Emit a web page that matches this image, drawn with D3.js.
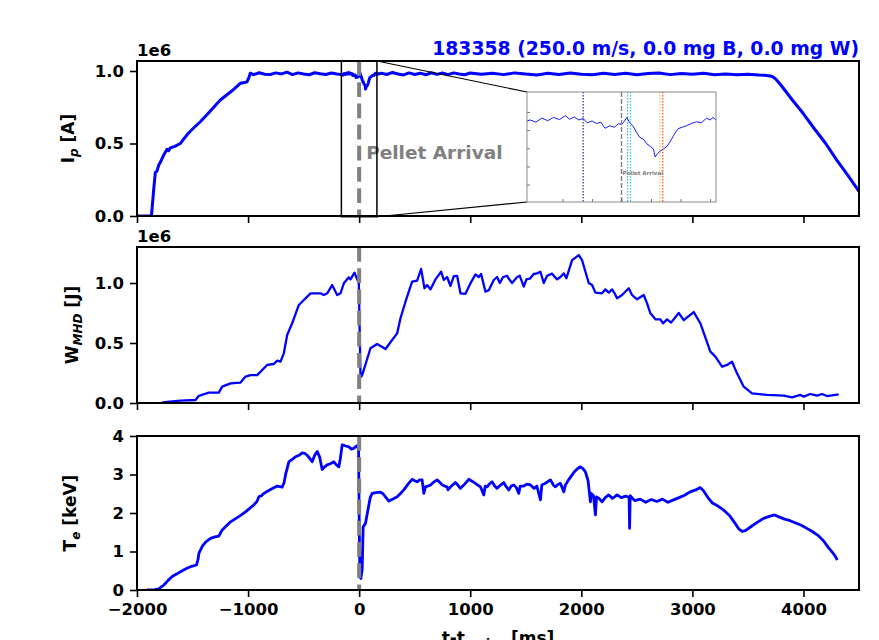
<!DOCTYPE html>
<html>
<head>
<meta charset="utf-8">
<script src="https://cdn.jsdelivr.net/npm/d3@7"></script>
<style>
  body { margin: 0; background: #fff; }
  svg { font-family: "DejaVu Sans", sans-serif; }
</style>
</head>
<body>
<svg id="chart" width="879" height="640"></svg>
<script>
const shotTitle = "183358 (250.0 m/s, 0.0 mg B, 0.0 mg W)";
const xTicks = [-2000, -1000, 0, 1000, 2000, 3000, 4000];

// plasma current, units of 1e6 A
const ipTime = [-2000, -1870, -1850, -1835, -1820, -1805, -1790, -1760, -1745, -1730, -1715, -1700, -1660, -1610, -1580, -1550, -1500, -1430, -1350, -1250, -1150, -1070, -1030, -1010, -990, -980,
  -950, -900, -850, -800, -750, -700, -650, -600, -550, -500, -450, -400, -350, -300, -250, -200,
  -160, -155, -145, -135, -125, -115, -105, -95, -88, -80, -72, -65, -58, -50, -42, -35, -28, -20, -12, -5, 0, 5, 9, 14, 20, 25, 31, 37, 43, 49, 54, 57, 61, 65, 71, 77, 83, 88, 92, 96, 103, 110, 118, 127, 135, 144, 150, 155, 160,
  200, 250, 300, 350, 400, 450, 500, 550, 600, 650, 700, 750, 800, 850, 900, 950, 1000, 1100, 1200, 1300, 1400, 1500, 1600, 1700, 1800, 1900, 2000, 2100, 2200, 2300, 2400, 2500, 2600, 2700, 2800, 2900, 3000, 3100, 3200, 3300, 3400, 3500, 3600, 3650,
  3700, 3720, 3750, 3800, 3900, 4000, 4100, 4200, 4300, 4400, 4500, 4520];
const ipValue = [0, 0, 0.18, 0.30, 0.31, 0.35, 0.37, 0.42, 0.44, 0.46, 0.45, 0.47, 0.48, 0.50, 0.53, 0.56, 0.60, 0.65, 0.715, 0.80, 0.86, 0.915, 0.92, 0.925, 0.96, 0.985,
  0.975, 0.988, 0.978, 0.976, 0.987, 0.98, 0.992, 0.975, 0.987, 0.979, 0.974, 0.988, 0.981, 0.976, 0.986, 0.979,
  0.975, 0.978, 0.972, 0.983, 0.976, 0.985, 0.979, 0.99, 0.98, 0.986, 0.978, 0.982, 0.97, 0.975, 0.968, 0.972, 0.955, 0.962, 0.958, 0.968, 0.965, 0.975, 0.985, 0.97, 0.96, 0.945, 0.93, 0.925, 0.912, 0.905, 0.898, 0.876, 0.885, 0.892, 0.898, 0.905, 0.92, 0.935, 0.945, 0.954, 0.958, 0.962, 0.968, 0.973, 0.97, 0.983, 0.978, 0.985, 0.978,
  0.984, 0.976, 0.99, 0.979, 0.973, 0.987, 0.976, 0.985, 0.974, 0.988, 0.977, 0.986, 0.975, 0.987, 0.979, 0.974, 0.986, 0.977, 0.985, 0.975, 0.987, 0.979, 0.973, 0.984, 0.976, 0.986, 0.977, 0.974, 0.985, 0.976, 0.984, 0.974, 0.982, 0.986, 0.975, 0.983, 0.977, 0.985, 0.974, 0.98, 0.975, 0.978, 0.972, 0.97,
  0.965, 0.962, 0.945, 0.90, 0.80, 0.705, 0.60, 0.50, 0.385, 0.28, 0.17, 0.15];

// stored energy, units of 1e6 J
const wmhdTime = [-1773, -1608, -1473, -1443, -1353, -1263, -1233, -1158, -1068, -1023, -978, -918, -828, -768, -738, -708, -678, -648, -603, -543, -438, -348, -318, -288, -243, -198, -168, -138, -93, -78, -42, -3, 12, 20,
  27, 102, 162, 237, 297, 342, 372, 417, 477, 522, 558, 588, 612, 642, 687, 738, 762, 792, 822, 852, 882, 912, 957, 1002, 1047, 1077, 1098, 1137, 1167, 1212, 1242, 1266, 1296, 1332, 1347, 1377, 1422, 1446, 1482, 1506, 1536, 1572, 1602, 1632, 1662, 1692, 1737, 1782, 1812, 1842, 1866, 1917, 1977, 2007, 2067, 2097, 2127, 2187, 2217, 2247, 2277, 2300, 2322,
  2367, 2427, 2457, 2502, 2562, 2592, 2622, 2667, 2712, 2736, 2772, 2808, 2877, 2922, 3012, 3072, 3162, 3207, 3267, 3312, 3357, 3402, 3462, 3537, 3672, 3822, 3897, 3972, 4002, 4062, 4122, 4167, 4212, 4317];
const wmhdValue = [0.006, 0.02, 0.025, 0.06, 0.086, 0.086, 0.136, 0.164, 0.17, 0.22, 0.232, 0.232, 0.317, 0.325, 0.353, 0.345, 0.414, 0.567, 0.664, 0.817, 0.914, 0.914, 0.90, 0.914, 0.983, 0.90, 0.914, 0.997, 1.047, 1.03, 1.086, 0.997, 0.233, 0.22,
  0.233, 0.456, 0.492, 0.45, 0.525, 0.58, 0.706, 0.844, 1.011, 1.02, 1.117, 0.956, 0.983, 0.947, 1.03, 1.094, 1.025, 1.05, 0.975, 1.058, 1.06, 0.914, 0.91, 0.997, 1.072, 1.05, 1.075, 0.928, 0.94, 1.025, 1.05, 1.0, 1.05, 1.06, 1.035, 1.0, 1.05, 1.06, 0.97, 1.03, 1.036, 1.075, 1.08, 1.094, 1.0, 1.06, 1.078, 1.03, 1.05, 1.08, 1.04, 1.19, 1.233, 1.19, 1.0, 0.983, 0.92, 0.914, 0.947, 0.92, 0.947, 0.914, 0.872,
  0.90, 0.956, 0.90, 0.864, 0.90, 0.83, 0.747, 0.697, 0.697, 0.664, 0.697, 0.67, 0.75, 0.69, 0.758, 0.664, 0.428, 0.386, 0.303, 0.317, 0.344, 0.247, 0.136, 0.081, 0.067, 0.061, 0.047, 0.067, 0.053, 0.075, 0.061, 0.075, 0.058, 0.072];

// electron temperature, keV
const teTime = [-1910, -1840, -1803, -1780, -1758, -1720, -1683, -1640, -1608, -1560, -1518, -1464, -1450, -1443, -1413, -1380, -1338, -1300, -1263, -1245, -1233, -1190, -1158, -1098, -1060, -1023, -985, -948, -920, -903, -880, -858, -798, -738, -693, -675, -663, -633, -600, -573, -540, -513, -490, -468, -445, -423, -400, -378, -355, -333, -310, -288, -260, -228, -205, -183, -170, -153, -120, -93, -70, -48, -25, -12, -5, 0, 6, 15, 27, 36, 57, 80, 100, 117, 150, 192, 215, 237, 267, 300, 342, 370, 402, 440, 477, 500, 522, 545, 567, 582, 597, 640, 670, 702, 725, 747, 770, 792, 800, 830, 867, 890, 912, 950, 987, 1020, 1047, 1070, 1092, 1122, 1135, 1152, 1175, 1197, 1220, 1242, 1270, 1302, 1320, 1347, 1370, 1392, 1415, 1437, 1450, 1482, 1510, 1542, 1575, 1600, 1632, 1645, 1680, 1722, 1750, 1767, 1790, 1812, 1842, 1857, 1890, 1932, 1965, 1992, 2015, 2037, 2060, 2067, 2082, 2090, 2110, 2127, 2137, 2160, 2187, 2215, 2247, 2280, 2300, 2322, 2360, 2400, 2430, 2435, 2440, 2480, 2530, 2580, 2630, 2680, 2730, 2780, 2830, 2880, 2930, 2980, 3030, 3070, 3100, 3140, 3180, 3230, 3280, 3330, 3380, 3420, 3450, 3480, 3530, 3580, 3640, 3700, 3740, 3780, 3830, 3880, 3930, 3980, 4030, 4080, 4130, 4180, 4220, 4260, 4290, 4305];
const teValue = [0, 0.01, 0.03, 0.08, 0.13, 0.25, 0.35, 0.42, 0.475, 0.55, 0.605, 0.65, 0.80, 0.95, 1.13, 1.25, 1.34, 1.38, 1.40, 1.50, 1.56, 1.68, 1.77, 1.88, 1.95, 2.03, 2.12, 2.21, 2.30, 2.42, 2.45, 2.51, 2.61, 2.70, 2.67, 2.80, 2.99, 3.33, 3.40, 3.46, 3.50, 3.56, 3.55, 3.50, 3.42, 3.33, 3.50, 3.60, 3.45, 3.13, 3.20, 3.25, 3.28, 3.33, 3.25, 3.20, 3.40, 3.77, 3.74, 3.72, 3.66, 3.68, 3.74, 3.72, 3.60, 2.0, 0.35, 0.30, 0.52, 1.64, 1.73, 2.10, 2.40, 2.51, 2.53, 2.54, 2.50, 2.42, 2.31, 2.36, 2.42, 2.50, 2.60, 2.75, 2.875, 2.84, 2.81, 2.86, 2.86, 2.51, 2.68, 2.72, 2.80, 2.86, 2.80, 2.73, 2.70, 2.68, 2.60, 2.70, 2.79, 2.72, 2.64, 2.75, 2.875, 2.82, 2.77, 2.72, 2.68, 2.47, 2.70, 2.68, 2.76, 2.81, 2.70, 2.64, 2.72, 2.79, 2.70, 2.60, 2.70, 2.73, 2.66, 2.51, 2.70, 2.70, 2.75, 2.73, 2.64, 2.70, 2.34, 2.73, 2.78, 2.86, 2.72, 2.68, 2.74, 2.77, 2.55, 2.73, 2.88, 3.05, 3.15, 3.20, 3.15, 3.07, 2.85, 2.68, 2.29, 2.51, 2.45, 1.95, 2.42, 2.38, 2.29, 2.40, 2.47, 2.38, 2.42, 2.47, 2.40, 2.44, 2.40, 1.60, 2.45, 2.32, 2.36, 2.28, 2.35, 2.30, 2.36, 2.28, 2.34, 2.40, 2.46, 2.55, 2.60, 2.66, 2.58, 2.40, 2.26, 2.18, 2.08, 1.95, 1.75, 1.58, 1.52, 1.55, 1.65, 1.75, 1.86, 1.92, 1.95, 1.90, 1.84, 1.80, 1.74, 1.68, 1.60, 1.52, 1.42, 1.28, 1.12, 0.98, 0.86, 0.78];

// zoomed window around the pellet arrival
const insetTimeRange = [-160, 160];
const insetIpRange = [0.752, 1.055];
const insetXTicks = [-100, -50, 0, 50, 100, 150];
const insetYTicks = [0.8, 0.85, 0.9, 0.95, 1.0];
const markerTimes = [-65, 10.5, 15.5, 65, 70];
const markerColors = ["#00008b", "#1e90ff", "#00d0d0", "#ffc000", "#ff2000"];

const svg = d3.select("#chart");
const x = d3.scaleLinear().domain([-2000, 4500]).range([137, 859]);

const panels = [
  {top: 61, bottom: 216, domain: [0, 1.069], ticks: [0, 0.5, 1.0], fmt: d3.format(".1f"), t: ipTime, v: ipValue, sci: "1e6", labelX: 74, lw: 3},
  {top: 247, bottom: 403, domain: [0, 1.3], ticks: [0, 0.5, 1.0], fmt: d3.format(".1f"), t: wmhdTime, v: wmhdValue, sci: "1e6", labelX: 78, lw: 2.3},
  {top: 436, bottom: 590, domain: [0, 4], ticks: [0, 1, 2, 3, 4], fmt: d3.format("d"), t: teTime, v: teValue, sci: null, labelX: 76, lw: 2.8}
];

const tickFont = "16.5px";

panels.forEach((p, i) => {
  const y = d3.scaleLinear().domain(p.domain).range([p.bottom, p.top]);
  p.y = y;
  const g = svg.append("g");

  svg.append("clipPath").attr("id", "clip" + i)
    .append("rect")
    .attr("x", x.range()[0]).attr("y", p.top)
    .attr("width", x.range()[1] - x.range()[0]).attr("height", p.bottom - p.top);

  const line = d3.line()
    .x((d, j) => x(p.t[j]))
    .y(d => y(d));

  g.append("path")
    .datum(p.v)
    .attr("clip-path", `url(#clip${i})`)
    .attr("fill", "none")
    .attr("stroke", "#0000ff")
    .attr("stroke-width", p.lw)
    .attr("stroke-linejoin", "round")
    .attr("d", line);

  // pellet arrival marker
  g.append("line")
    .attr("x1", x(0)).attr("x2", x(0))
    .attr("y1", p.top).attr("y2", p.bottom)
    .attr("stroke", "#808080")
    .attr("stroke-width", 4)
    .attr("stroke-dasharray", "14.8,6.4");

  // frame
  g.append("rect")
    .attr("x", x.range()[0]).attr("y", p.top)
    .attr("width", x.range()[1] - x.range()[0]).attr("height", p.bottom - p.top)
    .attr("fill", "none").attr("stroke", "#000").attr("stroke-width", 2);

  const xAxis = g.append("g")
    .attr("transform", `translate(0,${p.bottom})`)
    .call(d3.axisBottom(x).tickValues(xTicks).tickSize(7).tickPadding(6).tickSizeOuter(0)
      .tickFormat(i === 2 ? d3.format("d") : ""));
  const yAxis = g.append("g")
    .attr("transform", `translate(${x.range()[0]},0)`)
    .call(d3.axisLeft(y).tickValues(p.ticks).tickSize(7).tickPadding(6).tickSizeOuter(0)
      .tickFormat(p.fmt));

  [xAxis, yAxis].forEach(a => {
    a.select(".domain").remove();
    a.selectAll(".tick line").attr("stroke", "#000").attr("stroke-width", 1.6);
    a.selectAll(".tick text")
      .attr("fill", "#000")
      .attr("font-family", "DejaVu Sans")
      .attr("font-weight", "bold")
      .attr("font-size", tickFont);
  });

  if (p.sci) {
    g.append("text")
      .attr("x", x.range()[0]).attr("y", p.top - 5)
      .attr("font-weight", "bold").attr("font-size", tickFont)
      .text(p.sci);
  }
});

// y labels, subscript via dy shifts
function yLabel(p, parts) {
  const t = svg.append("text")
    .attr("transform", `translate(${p.labelX},${(p.top + p.bottom) / 2}) rotate(-90)`)
    .attr("text-anchor", "middle")
    .attr("font-weight", "bold")
    .attr("font-size", "17px");
  parts.forEach(pt => {
    const s = t.append("tspan").text(pt.text);
    if (pt.sub) s.attr("font-size", "12px").attr("dy", 4);
    if (pt.back) s.attr("dy", -4);
    if (pt.italic) s.attr("font-style", "italic");
  });
}
yLabel(panels[0], [{text: "I"}, {text: "p", sub: true, italic: true}, {text: " [A]", back: true}]);
yLabel(panels[1], [{text: "W"}, {text: "MHD", sub: true, italic: true}, {text: " [J]", back: true}]);
yLabel(panels[2], [{text: "T"}, {text: "e", sub: true, italic: true}, {text: " [keV]", back: true}]);

// x label (runs off the bottom edge, as in the original figure)
const xl = svg.append("text")
  .attr("x", (x.range()[0] + x.range()[1]) / 2).attr("y", 644)
  .attr("text-anchor", "middle")
  .attr("font-weight", "bold").attr("font-size", "17px");
xl.append("tspan").text("t-t");
xl.append("tspan").text("arrive").attr("font-size", "12px").attr("font-style", "italic").attr("dy", 4);
xl.append("tspan").text(" [ms]").attr("dy", -4);

// title
svg.append("text")
  .attr("x", x.range()[1]).attr("y", 55)
  .attr("text-anchor", "end")
  .attr("font-weight", "bold").attr("font-size", "18.8px")
  .attr("fill", "#0000ff")
  .text(shotTitle);

// main-panel annotation
const y1 = panels[0].y;
svg.append("text")
  .attr("x", x(0) + 7).attr("y", y1(0.39))
  .attr("font-weight", "bold").attr("font-size", "18.5px")
  .attr("fill", "#808080")
  .text("Pellet Arrival");

// zoom rectangle + inset
const zr = {x0: x(insetTimeRange[0]), x1: x(insetTimeRange[1]), y0: y1(1.069), y1: y1(-0.005)};
svg.append("rect")
  .attr("x", zr.x0).attr("y", zr.y0)
  .attr("width", zr.x1 - zr.x0).attr("height", zr.y1 - zr.y0)
  .attr("fill", "none").attr("stroke", "#000").attr("stroke-width", 1.5);

const inset = {left: 527, right: 716, top: 92, bottom: 202};
svg.append("line").attr("x1", zr.x1).attr("y1", zr.y0).attr("x2", inset.left).attr("y2", inset.top)
  .attr("stroke", "#000").attr("stroke-width", 1.2);
svg.append("line").attr("x1", zr.x1).attr("y1", zr.y1).attr("x2", inset.left).attr("y2", inset.bottom)
  .attr("stroke", "#000").attr("stroke-width", 1.2);

const ix = d3.scaleLinear().domain(insetTimeRange).range([inset.left, inset.right]);
const iy = d3.scaleLinear().domain(insetIpRange).range([inset.bottom, inset.top]);
const ig = svg.append("g");
ig.append("rect")
  .attr("x", inset.left).attr("y", inset.top)
  .attr("width", inset.right - inset.left).attr("height", inset.bottom - inset.top)
  .attr("fill", "#fff");
ig.append("clipPath").attr("id", "clipInset").append("rect")
  .attr("x", inset.left).attr("y", inset.top)
  .attr("width", inset.right - inset.left).attr("height", inset.bottom - inset.top);

const insetIdx = d3.range(ipTime.length).filter(j => ipTime[j] >= insetTimeRange[0] && ipTime[j] <= insetTimeRange[1]);
ig.append("path")
  .datum(insetIdx)
  .attr("clip-path", "url(#clipInset)")
  .attr("fill", "none").attr("stroke", "#0000ff").attr("stroke-width", 0.9)
  .attr("d", d3.line().x(j => ix(ipTime[j])).y(j => iy(ipValue[j])));

ig.append("line")
  .attr("x1", ix(0)).attr("x2", ix(0)).attr("y1", inset.top).attr("y2", inset.bottom)
  .attr("stroke", "#808080").attr("stroke-width", 1.4).attr("stroke-dasharray", "5,2");

ig.selectAll(".marker")
  .data(markerTimes)
  .join("line")
  .attr("class", "marker")
  .attr("x1", d => ix(d)).attr("x2", d => ix(d))
  .attr("y1", inset.top).attr("y2", inset.bottom)
  .attr("stroke", (d, k) => markerColors[k])
  .attr("stroke-width", 1)
  .attr("stroke-dasharray", "1.5,1.5");

ig.append("text")
  .attr("x", ix(0) + 1).attr("y", iy(0.825))
  .attr("font-weight", "bold").attr("font-size", "5.5px").attr("fill", "#808080")
  .text("Pellet Arrival");

const ixAxis = ig.append("g").attr("transform", `translate(0,${inset.bottom})`)
  .call(d3.axisBottom(ix).tickValues(insetXTicks).tickSize(-3).tickFormat(""));
const iyAxis = ig.append("g").attr("transform", `translate(${inset.left},0)`)
  .call(d3.axisLeft(iy).tickValues(insetYTicks).tickSize(-3).tickFormat(""));
[ixAxis, iyAxis].forEach(a => {
  a.select(".domain").remove();
  a.selectAll(".tick line").attr("stroke", "#555").attr("stroke-width", 0.8);
});
ig.append("rect")
  .attr("x", inset.left).attr("y", inset.top)
  .attr("width", inset.right - inset.left).attr("height", inset.bottom - inset.top)
  .attr("fill", "none").attr("stroke", "#888").attr("stroke-width", 1);
</script>
</body>
</html>
